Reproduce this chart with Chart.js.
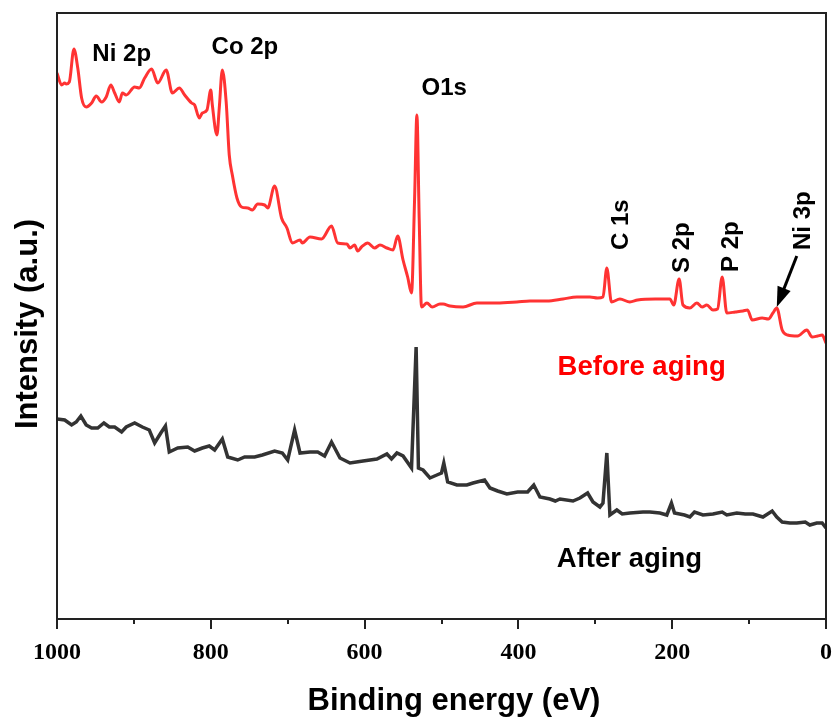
<!DOCTYPE html>
<html>
<head>
<meta charset="utf-8">
<script src="https://cdn.jsdelivr.net/npm/chart.js@4"></script>
<style>
  html, body { margin: 0; padding: 0; background: #fff; }
  #wrap { width: 834px; height: 719px; }
</style>
</head>
<body>
<div id="wrap"><canvas id="xpsChart" width="834" height="719"></canvas></div>
<script>
// ---- Survey spectra (binding energy in eV, intensity in a.u.) ----
var energyBefore = [1000, 994, 990, 988, 984, 978, 973, 968, 962, 955, 949, 942, 936, 930, 925, 919, 915, 910, 899, 893,
    886, 877, 869, 858, 850, 841, 834, 825, 821, 815, 811, 805, 800, 798, 792, 789, 785, 780, 776, 772,
    766, 760, 752, 746, 739, 730, 726, 717, 708, 701, 694, 684, 681, 671, 656, 643, 635, 623, 619, 613,
    609, 604, 596, 587, 580, 571, 563, 557, 550, 544, 539, 535, 532, 529, 526, 519, 512, 502, 498, 489,
    472, 454, 428, 402, 385, 363, 342, 324, 307, 297, 290, 285, 279, 268, 255, 245, 222, 203, 198, 191,
    186, 177, 168, 161, 155, 147, 141, 135, 129, 118, 108, 102, 96, 83, 75, 69, 64, 57, 50, 37,
    25, 18, 11, 5, 0];
var intensityBefore = [54.6, 53.4, 53.6, 53.5, 53.7, 57.0, 55.1, 52.1, 51.2, 51.6, 52.3, 51.7, 52.2, 53.4, 52.6, 51.7, 52.6, 52.4, 53.2, 53.1,
    54.1, 55.0, 53.6, 54.9, 52.6, 53.1, 52.4, 51.6, 51.4, 50.1, 50.6, 50.9, 52.9, 51.4, 48.4, 51.1, 54.9, 51.7, 46.4, 44.4,
    42.1, 41.2, 41.1, 40.9, 41.5, 41.4, 41.1, 43.3, 40.1, 39.1, 37.6, 37.9, 37.6, 38.2, 38.0, 39.3, 37.6, 37.5, 37.1, 37.4,
    36.8, 37.2, 37.6, 37.1, 37.4, 37.1, 36.9, 38.3, 35.9, 34.2, 32.6, 42.0, 50.4, 40.0, 31.2, 31.6, 31.2, 31.5, 31.5, 31.3,
    31.2, 31.6, 31.6, 31.7, 31.8, 31.8, 32.0, 32.2, 32.2, 32.1, 32.2, 35.1, 31.7, 32.0, 31.7, 31.9, 32.0, 32.0, 31.4, 34.0,
    31.4, 31.1, 31.6, 31.2, 31.4, 30.9, 31.0, 34.2, 30.6, 30.7, 30.8, 30.9, 29.9, 30.1, 30.0, 30.6, 31.1, 28.9, 28.4, 28.3,
    28.9, 28.2, 28.3, 28.4, 27.6];

var energyAfter = [1000, 990, 981, 975, 969, 962, 955, 947, 939, 932, 925, 916, 910, 899, 889, 880, 873, 865, 859, 854,
    843, 830, 821, 811, 802, 795, 785, 778, 765, 756, 743, 733, 717, 707, 700, 691, 684, 671, 661, 652,
    643, 632, 619, 602, 584, 571, 565, 558, 550, 539, 533, 530, 524, 515, 506, 500, 497, 492, 480, 467,
    459, 444, 437, 427, 415, 401, 388, 380, 372, 359, 352, 346, 329, 320, 310, 303, 294, 290, 285, 281,
    272, 265, 255, 238, 229, 216, 207, 201, 197, 184, 177, 171, 160, 147, 135, 129, 116, 105, 95, 82,
    70, 64, 57, 47, 38, 27, 21, 12, 5, 0];
var intensityAfter = [20.0, 19.9, 19.4, 19.7, 20.3, 19.4, 19.1, 19.1, 19.6, 19.2, 19.2, 18.7, 19.2, 19.6, 19.2, 18.9, 17.6, 18.6, 19.3, 16.7,
    17.1, 17.2, 16.8, 17.1, 17.3, 16.9, 18.0, 16.2, 15.9, 16.2, 16.2, 16.4, 16.8, 16.6, 15.9, 18.9, 16.6, 16.7, 16.7, 16.3,
    17.7, 16.1, 15.6, 15.8, 16.0, 16.5, 16.0, 16.6, 16.3, 15.1, 27.2, 15.1, 14.9, 14.1, 14.4, 14.6, 15.6, 13.7, 13.4, 13.4,
    13.6, 13.9, 13.1, 12.8, 12.5, 12.7, 12.7, 13.4, 12.2, 12.0, 11.8, 12.0, 11.8, 12.1, 12.6, 11.7, 11.2, 11.6, 16.6, 10.4,
    10.9, 10.5, 10.6, 10.7, 10.7, 10.6, 10.4, 11.6, 10.6, 10.4, 10.2, 10.7, 10.4, 10.5, 10.7, 10.4, 10.6, 10.5, 10.5, 10.2,
    10.8, 10.2, 9.7, 9.6, 9.6, 9.7, 9.4, 9.6, 9.6, 9.1];

var xTicksMajor = [1000, 800, 600, 400, 200, 0];
var xTicksMinor = [900, 700, 500, 300, 100];

// peak labels: [text, energy, intensity, rotated]
var peakLabels = [
    ['Ni 2p', 954, 55.8, false],
    ['Co 2p', 799, 56.5, false],
    ['O1s', 526, 52.4, false],
    ['C 1s', 258, 36.9, true],
    ['S 2p', 178, 34.6, true],
    ['P 2p', 114, 34.7, true],
    ['Ni 3p', 21, 36.9, true]
];

function toPoints(xs, ys) {
    return xs.map(function (x, i) { return { x: x, y: ys[i] }; });
}

// ---- frame, minor ticks, labels, axis titles ----
var decorPlugin = {
    id: 'decor',
    afterDraw: function (chart) {
        var ctx = chart.ctx;
        var a = chart.chartArea;
        var xs = chart.scales.x;
        var ys = chart.scales.y;
        ctx.save();

        // frame
        ctx.strokeStyle = '#222';
        ctx.lineWidth = 2;
        ctx.strokeRect(a.left, a.top, a.right - a.left, a.bottom - a.top);

        // minor ticks
        xTicksMinor.forEach(function (v) {
            var px = Math.round(xs.getPixelForValue(v));
            ctx.beginPath();
            ctx.moveTo(px, a.bottom);
            ctx.lineTo(px, a.bottom + 5);
            ctx.stroke();
        });

        // peak labels
        ctx.fillStyle = '#000';
        ctx.font = 'bold 24px "Liberation Sans", Arial, sans-serif';
        ctx.textBaseline = 'alphabetic';
        peakLabels.forEach(function (p) {
            var px = xs.getPixelForValue(p[1]);
            var py = ys.getPixelForValue(p[2]);
            if (p[3]) {
                ctx.save();
                ctx.translate(px, py);
                ctx.rotate(-Math.PI / 2);
                ctx.textAlign = 'left';
                ctx.fillText(p[0], 0, 0);
                ctx.restore();
            } else {
                ctx.textAlign = 'left';
                ctx.fillText(p[0], px, py);
            }
        });

        // arrow pointing at Ni 3p
        var x1 = xs.getPixelForValue(38), y1 = ys.getPixelForValue(36.3);
        var x2 = xs.getPixelForValue(64), y2 = ys.getPixelForValue(31.2);
        var ang = Math.atan2(y2 - y1, x2 - x1);
        ctx.strokeStyle = '#000';
        ctx.lineWidth = 3;
        ctx.beginPath();
        ctx.moveTo(x1, y1);
        ctx.lineTo(x2 - 12 * Math.cos(ang), y2 - 12 * Math.sin(ang));
        ctx.stroke();
        ctx.beginPath();
        ctx.moveTo(x2, y2);
        ctx.lineTo(x2 - 20 * Math.cos(ang) + 7 * Math.sin(ang), y2 - 20 * Math.sin(ang) - 7 * Math.cos(ang));
        ctx.lineTo(x2 - 20 * Math.cos(ang) - 7 * Math.sin(ang), y2 - 20 * Math.sin(ang) + 7 * Math.cos(ang));
        ctx.closePath();
        ctx.fill();

        // series names
        ctx.font = 'bold 27.5px "Liberation Sans", Arial, sans-serif';
        ctx.textAlign = 'left';
        ctx.fillStyle = '#ff0000';
        ctx.fillText('Before aging', xs.getPixelForValue(349), ys.getPixelForValue(24.4));
        ctx.fillStyle = '#000';
        ctx.fillText('After aging', xs.getPixelForValue(350), ys.getPixelForValue(5.2));

        // axis titles
        ctx.font = 'bold 31px "Liberation Sans", Arial, sans-serif';
        ctx.textAlign = 'center';
        ctx.fillText('Binding energy (eV)', 454, 710);
        ctx.save();
        ctx.translate(37, 324);
        ctx.rotate(-Math.PI / 2);
        ctx.fillText('Intensity (a.u.)', 0, 0);
        ctx.restore();

        ctx.restore();
    }
};

var ctx = document.getElementById('xpsChart');
var xpsChart = new Chart(ctx, {
    type: 'line',
    data: {
        datasets: [{
            label: 'Before aging',
            data: toPoints(energyBefore, intensityBefore),
            borderColor: '#ff3333',
            borderWidth: 3,
            pointRadius: 0,
            cubicInterpolationMode: 'monotone'
        }, {
            label: 'After aging',
            data: toPoints(energyAfter, intensityAfter),
            borderColor: '#333333',
            borderWidth: 3.5,
            pointRadius: 0,
            tension: 0
        }]
    },
    options: {
        responsive: false,
        animation: false,
        layout: { padding: { top: 13, right: 8, left: 0, bottom: 0 } },
        plugins: {
            legend: { display: false },
            tooltip: { enabled: false }
        },
        scales: {
            x: {
                type: 'linear',
                reverse: true,
                min: 0,
                max: 1000,
                afterBuildTicks: function (scale) {
                    scale.ticks = xTicksMajor.map(function (v) { return { value: v }; });
                },
                afterFit: function (scale) {
                    scale.height = 100;
                    scale.paddingLeft = 0;
                    scale.paddingRight = 0;
                },
                border: { display: false },
                grid: {
                    drawOnChartArea: false,
                    drawTicks: true,
                    tickLength: 10,
                    color: '#222',
                    lineWidth: 2
                },
                ticks: {
                    color: '#000',
                    padding: 9,
                    maxRotation: 0,
                    callback: function (v) { return String(v); },
                    font: { family: '"Liberation Serif", "Times New Roman", serif', size: 24, weight: 'bold' }
                }
            },
            y: {
                min: 0,
                max: 60.6,
                afterFit: function (scale) { scale.width = 57; },
                border: { display: false },
                grid: { display: false },
                ticks: { display: false }
            }
        }
    },
    plugins: [decorPlugin]
});
</script>
</body>
</html>
